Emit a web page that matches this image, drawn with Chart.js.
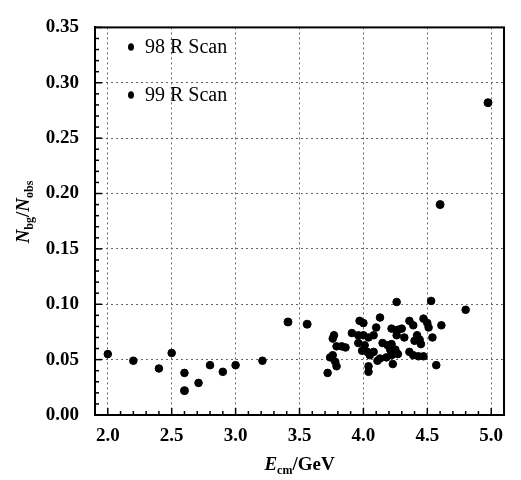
<!DOCTYPE html>
<html><head><meta charset="utf-8">
<script src="https://cdn.jsdelivr.net/npm/chart.js@4/dist/chart.umd.min.js"></script>
<style>html,body{margin:0;padding:0;background:#fff}#wrap{width:521px;height:480px}</style>
</head><body><div id="wrap"><canvas id="c"></canvas></div>
<script>
const seriesNames = ['98 R Scan', '99 R Scan'];
const scan98X = [2.60, 3.41, 3.56, 4.60, 4.975];
const scan98Y = [0.022, 0.084, 0.082, 0.190, 0.282];
const scan99X = [2.00,2.20,2.40,2.50,2.60,2.71,2.80,2.90,3.00,3.21,
 3.72,3.74,3.76,3.76,3.77,3.78,3.79,3.79,3.83,3.86,3.91,3.96,3.96,3.97,3.99,
 4.00,4.00,4.01,4.03,4.04,4.04,4.04,4.05,4.08,4.08,4.10,4.11,4.13,4.13,4.15,
 4.18,4.19,4.21,4.22,4.22,4.22,4.23,4.25,4.26,4.26,4.26,4.27,4.27,4.30,4.32,
 4.36,4.36,4.39,4.39,4.40,4.42,4.43,4.44,4.45,4.47,4.47,4.50,4.51,4.53,4.54,
 4.57,4.61,4.80];
const scan99Y = [0.055,0.049,0.042,0.056,0.038,0.029,0.045,0.039,0.045,0.049,
 0.038,0.052,0.054,0.069,0.072,0.048,0.044,0.062,0.062,0.061,0.074,0.072,0.065,0.085,0.058,
 0.083,0.072,0.063,0.057,0.070,0.044,0.039,0.054,0.072,0.057,0.079,0.049,0.088,0.051,0.065,
 0.052,0.063,0.059,0.078,0.054,0.064,0.046,0.059,0.076,0.072,0.102,0.077,0.055,0.078,0.070,
 0.085,0.057,0.081,0.054,0.067,0.072,0.053,0.068,0.064,0.087,0.053,0.083,0.079,0.103,0.070,
 0.045,0.081,0.095];
const xTicks = [2.0, 2.5, 3.0, 3.5, 4.0, 4.5, 5.0];
const yTicks = [0.00, 0.05, 0.10, 0.15, 0.20, 0.25, 0.30, 0.35];

const SERIF = '"Liberation Serif", "DejaVu Serif", serif';
const toPts = (xs, ys) => xs.map((v, i) => ({x: v, y: ys[i]}));

function drawRich(ctx, parts, x, y) {
  let total = 0;
  parts.forEach(p => { ctx.font = p.f; p.w = ctx.measureText(p.t).width; total += p.w; });
  let cx = x - total / 2;
  ctx.textAlign = 'left'; ctx.textBaseline = 'alphabetic';
  parts.forEach(p => { ctx.font = p.f; ctx.fillText(p.t, cx, y + (p.dy || 0)); cx += p.w; });
}

const deco = {
  id: 'deco',
  afterDraw(chart) {
    const {ctx, chartArea: a, scales: {x, y}} = chart;
    ctx.save();
    ctx.strokeStyle = '#000'; ctx.fillStyle = '#000';
    ctx.lineWidth = 2;
    ctx.strokeRect(a.left, a.top, a.right - a.left, a.bottom - a.top);
    ctx.lineWidth = 1.5;
    for (let i = 20; i <= 50; i++) {
      const px = x.getPixelForValue(i / 10);
      const len = (i % 5 === 0) ? 7 : 4;
      ctx.beginPath(); ctx.moveTo(px, a.bottom); ctx.lineTo(px, a.bottom - len); ctx.stroke();
    }
    for (let i = 0; i <= 35; i++) {
      const py = y.getPixelForValue(i / 100);
      const len = (i % 5 === 0) ? 7 : 4;
      ctx.beginPath(); ctx.moveTo(a.left, py); ctx.lineTo(a.left + len, py); ctx.stroke();
    }
    // legend
    const legY = [47, 95];
    seriesNames.forEach((n, i) => {
      ctx.beginPath(); ctx.ellipse(131, legY[i], 3, 3.8, 0, 0, Math.PI * 2); ctx.fill();
      ctx.font = '20px ' + SERIF; ctx.textAlign = 'left'; ctx.textBaseline = 'middle';
      ctx.fillText(n, 145, legY[i] + 1);
    });
    // x title
    drawRich(ctx, [
      {t: 'E', f: 'italic bold 19px ' + SERIF},
      {t: 'cm', f: 'bold 12px ' + SERIF, dy: 4},
      {t: '/GeV', f: 'bold 19px ' + SERIF}
    ], (a.left + a.right) / 2, 470);
    // y title
    ctx.save();
    ctx.translate(29, 212); ctx.rotate(-Math.PI / 2);
    drawRich(ctx, [
      {t: 'N', f: 'italic bold 19px ' + SERIF},
      {t: 'bg', f: 'bold 12px ' + SERIF, dy: 4},
      {t: '/', f: 'bold 19px ' + SERIF},
      {t: 'N', f: 'italic bold 19px ' + SERIF},
      {t: 'obs', f: 'bold 12px ' + SERIF, dy: 4}
    ], 0, 0);
    ctx.restore();
    ctx.restore();
  }
};

const gridOpts = {color: '#666', lineWidth: 1, drawTicks: false};
new Chart(document.getElementById('c'), {
  type: 'scatter',
  data: {
    datasets: [
      {label: seriesNames[0], data: toPts(scan98X, scan98Y), backgroundColor: '#000', borderColor: '#000', borderWidth: 1, pointRadius: 4, pointHoverRadius: 4},
      {label: seriesNames[1], data: toPts(scan99X, scan99Y), backgroundColor: '#000', borderColor: '#000', borderWidth: 1, pointRadius: 3.8, pointHoverRadius: 3.8}
    ]
  },
  options: {
    responsive: true, maintainAspectRatio: false, animation: false,
    layout: {padding: {top: 14, right: 17, left: 0, bottom: 0}},
    plugins: {legend: {display: false}, tooltip: {enabled: false}},
    scales: {
      x: {
        type: 'linear', min: 1.9, max: 5.1,
        afterBuildTicks: s => { s.ticks = xTicks.map(v => ({value: v})); },
        afterFit: s => { s.height = 65; },
        grid: gridOpts,
        border: {display: true, color: '#000', width: 2, dash: [2, 3]},
        ticks: {color: '#000', padding: 10, font: {family: SERIF, size: 19, weight: 'bold'}, callback: v => Number(v).toFixed(1)}
      },
      y: {
        type: 'linear', min: 0, max: 0.35,
        afterBuildTicks: s => { s.ticks = yTicks.map(v => ({value: v})); },
        afterFit: s => { s.width = 95; },
        grid: gridOpts,
        border: {display: true, color: '#000', width: 2, dash: [2, 3]},
        ticks: {color: '#000', padding: 16, font: {family: SERIF, size: 19, weight: 'bold'}, callback: v => Number(v).toFixed(2)}
      }
    }
  },
  plugins: [deco]
});
</script></body></html>
